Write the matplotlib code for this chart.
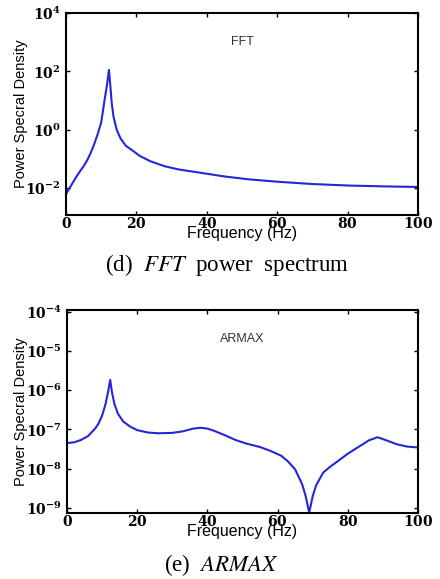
import numpy as np
import matplotlib
matplotlib.use("Agg")
from matplotlib import pyplot as plt

# FFT spectrum (freq in Hz, log10 of PSD)
fft_freq = [0, 1, 2, 3, 4, 5, 6, 7, 8, 9, 10, 11, 11.6, 12.2, 12.6, 13, 13.5,
            14.4, 15.5, 17, 19, 21, 24, 28, 32, 38, 45, 52, 60, 70, 80, 90, 100]
fft_log = [-2.2, -2.0, -1.8, -1.6, -1.42, -1.25, -1.05, -0.8, -0.5, -0.15, 0.25,
           1.05, 1.5, 2.05, 1.5, 0.9, 0.45, 0.0, -0.3, -0.55, -0.72, -0.9, -1.08,
           -1.25, -1.36, -1.47, -1.6, -1.7, -1.78, -1.86, -1.91, -1.94, -1.96]

# ARMAX spectrum
armax_freq = [0, 2, 4, 6, 8, 9, 10, 11, 11.8, 12.3, 12.8, 13.5, 14.5, 16, 18, 20,
              23, 26, 30, 33, 36, 38, 40, 42, 45, 48, 51, 55, 58, 61, 63, 65, 67,
              68, 69, 70, 71, 73, 75, 77, 80, 83, 86, 88.5, 91, 94, 97, 100]
armax_log = [-7.35, -7.33, -7.27, -7.17, -6.98, -6.85, -6.65, -6.35, -6.0, -5.74,
             -6.05, -6.35, -6.6, -6.8, -6.93, -7.02, -7.08, -7.1, -7.09, -7.05,
             -6.98, -6.96, -6.98, -7.04, -7.15, -7.27, -7.36, -7.45, -7.55, -7.67,
             -7.82, -8.02, -8.4, -8.7, -9.12, -8.7, -8.42, -8.1, -7.95, -7.82,
             -7.62, -7.45, -7.28, -7.2, -7.28, -7.38, -7.44, -7.46]

x_ticks = [0, 20, 40, 60, 80, 100]
fft_yexp = [4, 2, 0, -2]
armax_yexp = [-4, -5, -6, -7, -8, -9]

line_color = '#2626d9'
tick_font = dict(family='DejaVu Serif', size=10, math_fontfamily='dejavuserif')


def setup_axis(ax, freq, logvals, exps, ylim, name, name_y):
    ax.semilogy(freq, 10.0 ** np.array(logvals), color=line_color, lw=1.5)
    ax.set_xlim(0, 100)
    ax.set_ylim(*ylim)
    ax.set_xticks(x_ticks)
    ax.set_xticklabels([r'$\mathbf{%d}$' % t for t in x_ticks], **tick_font)
    ax.set_yticks([10.0 ** e for e in exps])
    ax.set_yticklabels([r'$\mathbf{10^{%d}}$' % e for e in exps], **tick_font)
    ax.yaxis.set_minor_locator(matplotlib.ticker.NullLocator())
    ax.tick_params(direction='in', top=True, right=True, length=3, width=1,
                   pad=1)
    ax.tick_params(axis='y', pad=4)
    for s in ax.spines.values():
        s.set_linewidth(1.5)
    ax.set_xlabel('Frequency (Hz)', labelpad=-4, family='Liberation Sans', size=11.5)
    ax.set_ylabel('Power Specral Density', labelpad=-2, family='Liberation Sans',
                  size=10.5)
    ax.text(50, name_y, name, ha='center', va='center',
            family='Liberation Sans', size=9, color='#333333')


fig = plt.figure(figsize=(4.4, 5.79), dpi=100)

ax1 = fig.add_axes([0.15, 0.6287, 0.8, 0.3489])
setup_axis(ax1, fft_freq, fft_log, fft_yexp, (10 ** -2.92, 1e4), 'FFT', 1e3)

ax2 = fig.add_axes([0.1523, 0.114, 0.7977, 0.3506])
setup_axis(ax2, armax_freq, armax_log, armax_yexp, (10 ** -9.13, 10 ** -3.96),
           'ARMAX', 2e-5)

cap_font = dict(family='Liberation Serif', size=16.5, math_fontfamily='stix',
                ha='center', va='center')
fig.text(227 / 440, 1 - 265 / 579, r'(d)  $\mathit{FFT}$  power  spectrum', **cap_font)
fig.text(221 / 440, 1 - 565 / 579, r'(e)  $\mathit{ARMAX}$', **cap_font)

fig.savefig('out.png', dpi=100)
